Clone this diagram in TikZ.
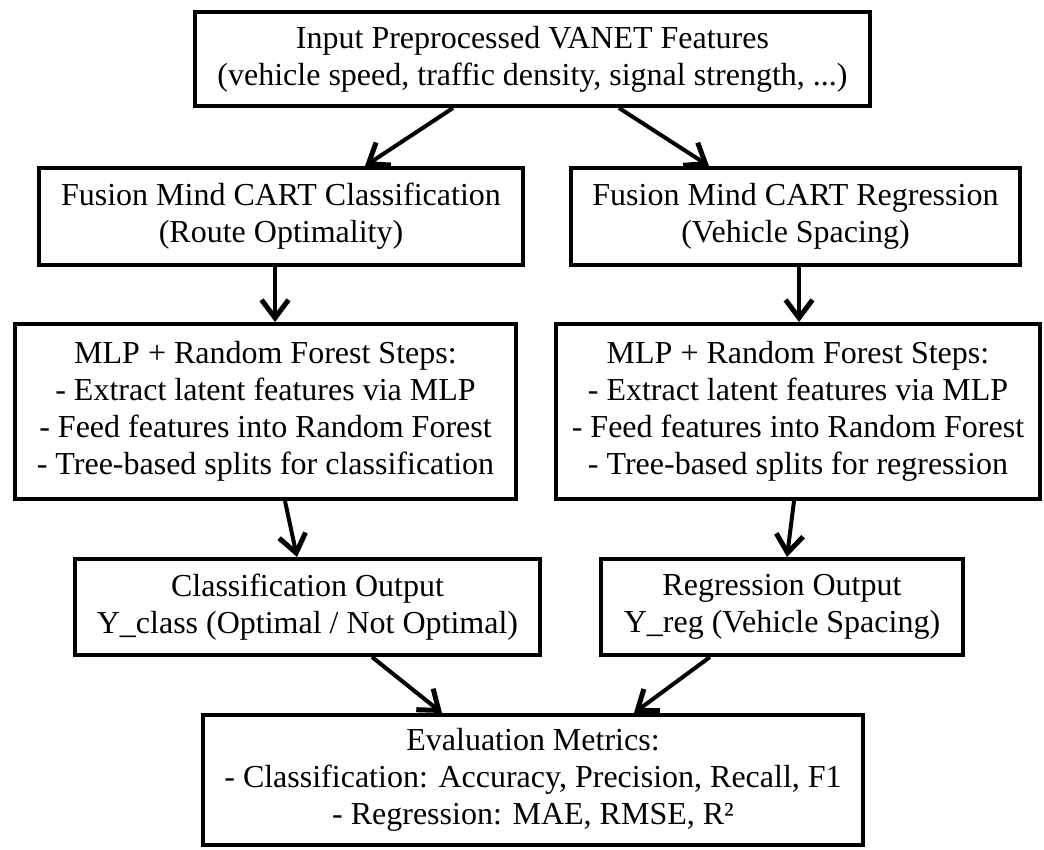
\documentclass[tikz,border=0pt]{standalone}
\usepackage{fontspec}
\setmainfont{Liberation Serif}
\usetikzlibrary{arrows.meta}
\begin{document}
\begin{tikzpicture}[x=1pt,y=-1pt,
  box/.style={draw=black,line width=4pt,align=center,inner sep=0pt,
    font=\fontsize{32}{37}\selectfont},
  arr/.style={line width=4pt,-{Straight Barb[length=18pt,width=27pt,line width=5pt]}}]
\useasboundingbox (0,0) rectangle (1044,850);
\node[box,minimum width=675pt,minimum height=94pt] (top) at (532.5,59)
  {Input Preprocessed VANET Features\\(vehicle speed, traffic density, signal strength, ...)};
\node[box,minimum width=484pt,minimum height=97pt] (c2L) at (281,216.5)
  {Fusion Mind CART Classification\\(Route Optimality)};
\node[box,minimum width=449pt,minimum height=97pt] (c2R) at (795.5,216.5)
  {Fusion Mind CART Regression\\(Vehicle Spacing)};
\node[box,minimum width=501pt,minimum height=175pt] (c3L) at (265.5,411.5)
  {MLP + Random Forest Steps:\\- Extract latent features via MLP\\- Feed features into Random Forest\\- Tree-based splits for classification};
\node[box,minimum width=484pt,minimum height=175pt] (c3R) at (798,411.5)
  {MLP + Random Forest Steps:\\- Extract latent features via MLP\\- Feed features into Random Forest\\- Tree-based splits for regression};
\node[box,minimum width=465pt,minimum height=96pt] (c4L) at (307.5,607)
  {Classification Output\\Y\_class (Optimal / Not Optimal)};
\node[box,minimum width=362pt,minimum height=96pt] (c4R) at (782,607)
  {Regression Output\\Y\_reg (Vehicle Spacing)};
\node[box,minimum width=660pt,minimum height=130pt] (bot) at (533,780)
  {Evaluation Metrics:\\- Classification: Accuracy, Precision, Recall, F1\\- Regression: MAE, RMSE, R²};
\draw[arr] ([xshift=-79.5pt]top.south) -- ([xshift=84pt]c2L.north);
\draw[arr] ([xshift=86.5pt]top.south) -- ([xshift=-86.5pt]c2R.north);
\draw[arr] ([xshift=-6pt]c2L.south) -- ([xshift=9.5pt]c3L.north);
\draw[arr] ([xshift=3.5pt]c2R.south) -- ([xshift=1pt]c3R.north);
\draw[arr] ([xshift=19.5pt]c3L.south) -- ([xshift=-10.5pt]c4L.north);
\draw[arr] ([xshift=-4pt]c3R.south) -- ([xshift=5pt]c4R.north);
\draw[arr] ([xshift=64.5pt]c4L.south) -- ([xshift=-91pt]bot.north);
\draw[arr] ([xshift=-72pt]c4R.south) -- ([xshift=101pt]bot.north);
\end{tikzpicture}
\end{document}
